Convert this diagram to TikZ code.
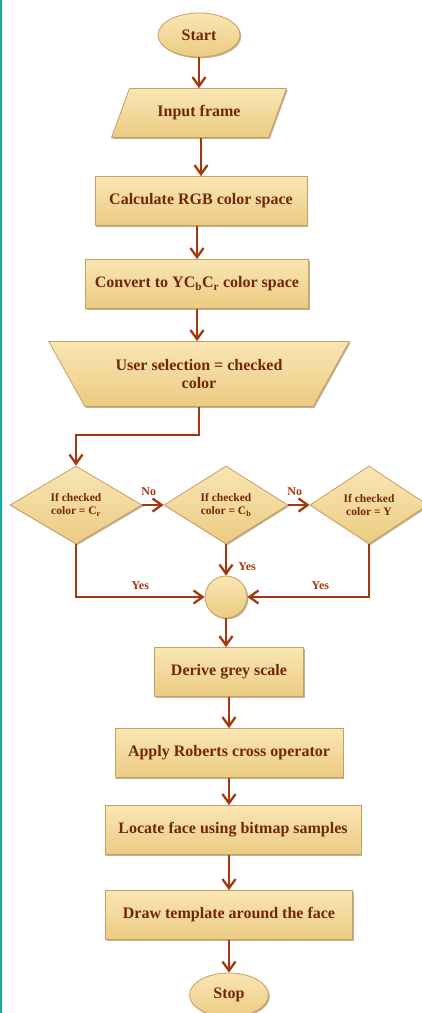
\documentclass[tikz,border=0pt]{standalone}
\usepackage{fontspec}
\setmainfont{Liberation Serif}
\definecolor{paper}{HTML}{ECCB82}
\definecolor{paperhi}{HTML}{F9E6B4}
\definecolor{rim}{HTML}{C79F5E}
\definecolor{ink}{HTML}{72260A}
\definecolor{wire}{HTML}{A3380F}
\definecolor{edge}{HTML}{17A8A3}
\usetikzlibrary{arrows.meta,shapes.geometric,shadows}
\newcommand\lowsub[1]{\textsubscript{#1}}
\tikzset{
  >={Straight Barb[length=3.2mm,width=4.6mm]},
  blk/.style={draw=rim,line width=0.8pt,top color=paperhi,bottom color=paper,font=\fontsize{16}{18}\selectfont\bfseries,text=ink,align=center,inner sep=0pt,
    drop shadow={shadow xshift=1.3pt,shadow yshift=-1.3pt,fill=rim!70!black,opacity=0.55}},
  proc/.style={blk,rectangle,minimum height=49pt},
  term/.style={blk,ellipse,minimum height=44pt},
  io/.style={blk,trapezium,trapezium left angle=54,trapezium right angle=126,trapezium stretches=true,minimum height=49pt},
  man/.style={blk,trapezium,trapezium left angle=132,trapezium right angle=132,trapezium stretches=true,minimum height=65pt},
  dec/.style={blk,diamond,font=\fontsize{11.5}{13}\selectfont\bfseries,minimum height=78pt},
  jn/.style={blk,circle,minimum size=42pt},
  arr/.style={->,draw=wire,line width=2.3pt},
  lbl/.style={font=\fontsize{12}{13}\selectfont\bfseries,text=wire},
}
\begin{document}
\begin{tikzpicture}[x=1pt,y=-1pt]
\useasboundingbox (0,0) rectangle (422,1013);
\draw[edge,line width=2.5pt] (1.2,0) -- (1.2,1013);
% main column
\node[term,minimum width=82pt] (start) at (199,35) {Start};
\node[io,minimum width=175pt] (inp) at (199,113) {Input frame};
\node[proc,minimum width=212pt] (rgb) at (201,201) {Calculate RGB color space};
\node[proc,minimum width=223pt] (ycc) at (197,284) {Convert to YC\lowsub{b}C\lowsub{r} color space};
\node[man,minimum width=301pt] (sel) at (199,374) {User selection = checked\\color};
% decisions
\node[dec,minimum width=132pt] (dcr) at (76,505) {If checked\\color = C\lowsub{r}};
\node[dec,minimum width=124pt] (dcb) at (226,505) {If checked\\color = C\lowsub{b}};
\node[dec,minimum width=118pt] (dy) at (369,505) {If checked\\color = Y};
\node[jn] (join) at (226,597) {};
% lower column
\node[proc,minimum width=149pt] (grey) at (229,672) {Derive grey scale};
\node[proc,minimum width=228pt] (rob) at (229,753) {Apply Roberts cross operator};
\node[proc,minimum width=256pt] (loc) at (233,830) {Locate face using bitmap samples};
\node[proc,minimum width=247pt] (tpl) at (229,915) {Draw template around the face};
\node[term,minimum width=79pt] (stop) at (229,995) {Stop};
% connectors
\draw[arr] (start) -- (start |- inp.north);
\draw[arr] (inp.south -| rgb.north) -- (rgb.north);
\draw[arr] (rgb.south -| ycc.north) -- (ycc.north);
\draw[arr] (ycc) -- (ycc |- sel.north);
\draw[arr] (sel.south) -- ++(0,28) -| (dcr.north);
\draw[arr] (dcr.east) -- node[lbl,above=5pt,pos=0.3]{No} (dcb.west);
\draw[arr] (dcb.east) -- node[lbl,above=5pt,pos=0.3]{No} (dy.west);
\draw[arr] (dcb.south) -- node[lbl,right=8pt,pos=0.7]{Yes} (join.north);
\draw[arr] (dcr.south) |- node[lbl,above=3pt,pos=0.75]{Yes} (join.west);
\draw[arr] (dy.south) |- node[lbl,above=3pt,pos=0.7]{Yes} (join.east);
\draw[arr] (join) -- (join |- grey.north);
\foreach \a/\b in {grey/rob,rob/loc,loc/tpl,tpl/stop}
  \draw[arr] (\a.south -| grey.south) -- (grey.south |- \b.north);
\end{tikzpicture}
\end{document}
